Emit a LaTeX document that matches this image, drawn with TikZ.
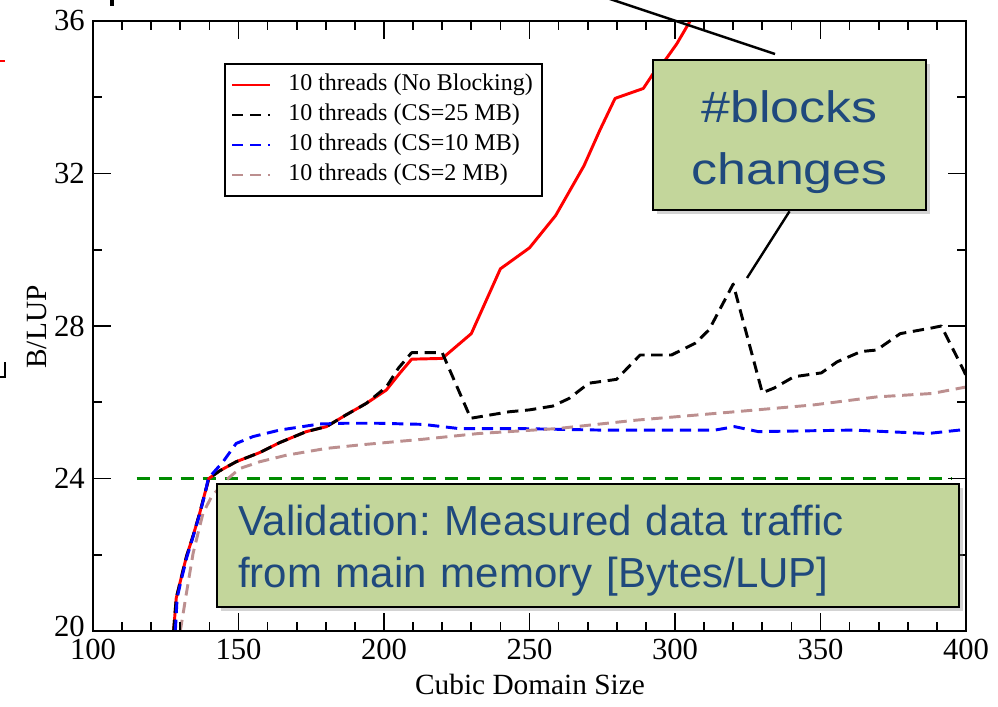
\documentclass[tikz,border=0pt]{standalone}
\usepackage{fontspec}
\setmainfont{Liberation Serif}
\newfontfamily\calloutfont{Liberation Sans}
\newfontfamily\calloutwidefont[FakeStretch=1.18]{Liberation Sans}
\usetikzlibrary{shadows}
\frenchspacing

\definecolor{gracebrown}{RGB}{188,143,143}
\definecolor{gracegreen}{RGB}{0,140,0}
\definecolor{calloutfill}{RGB}{195,214,155}
\definecolor{callouttext}{RGB}{31,73,125}

\begin{document}
\begin{tikzpicture}[x=0.75pt,y=-0.75pt,
  frame/.style={line width=2.2pt},
  tick/.style={line width=1.3pt},
  ticklabel/.style={font=\fontsize{23}{26}\selectfont,inner sep=0pt},
  axislabel/.style={font=\fontsize{22}{26}\selectfont,inner sep=0pt},
  legendtext/.style={font=\fontsize{18}{20}\selectfont,inner sep=0pt,anchor=west},
  curve/.style={line width=2.2pt,line join=round},
  nob/.style={curve,red},
  cs25/.style={curve,black,dash pattern=on 8.5pt off 5pt},
  cs10/.style={curve,blue,dash pattern=on 8.5pt off 5pt},
  cs2/.style={curve,gracebrown,dash pattern=on 8.5pt off 5pt},
  limit/.style={curve,gracegreen,dash pattern=on 9.75pt off 6.75pt},
  callout/.style={draw=black,line width=2pt,fill=calloutfill,text=callouttext,inner sep=0pt,
    drop shadow={opacity=0.35,shadow xshift=3pt,shadow yshift=-3pt}},
  pointer/.style={line width=1.8pt}]

    \useasboundingbox (0,0) rectangle (998,706);

    % Cut-off bits of the slide
    \draw[red,line width=2.2pt] (0,61) -- (5,61);
    \draw[line width=2.5pt] (112,0) -- (112,6);
    \draw[line width=2pt] (0,377) -- (5,377) -- (5,362);

    % The plot (data coordinates)
    \begin{scope}[shift={(-198,1393.5)},x=2.1825pt,y=28.59375pt]
	\draw[limit] (115,24) -- (395,24);
	\draw[nob] plot coordinates {(127.7,20) (128.6,20.86) (130,21.3) (132.1,21.95) (134.4,22.5)
	  (136.7,23.1) (138.4,23.6) (139.8,24.0) (143.5,24.2) (149.2,24.44) (157.3,24.68) (164.1,24.94)
	  (173.3,25.23) (180.2,25.36) (187,25.67) (193.9,25.97) (200.8,26.32) (205.4,26.76) (209.5,27.13)
	  (220,27.15) (230,27.8) (240,29.5) (250,30.05) (259,30.9) (268.7,32.2) (274.2,33.14) (279.4,33.97)
	  (289.1,34.23) (292.5,34.62) (296.6,34.97) (300.6,35.4) (305.2,36)};
	\draw[cs25] plot coordinates {(127.7,20) (128.6,20.86) (130,21.3) (132.1,21.95) (134.4,22.5)
	  (136.7,23.1) (138.4,23.6) (139.8,24.0) (143.5,24.2) (149.2,24.44) (157.3,24.68) (164.1,24.94)
	  (173.3,25.23) (180.2,25.36) (187,25.67) (193.9,25.97) (200.8,26.4) (205,26.9) (209.5,27.3)
	  (220,27.3) (229.8,25.58) (243,25.75) (250,25.8) (258,25.9) (263.6,26.1) (270.4,26.5) (279.9,26.6)
	  (288,27.24) (298.8,27.24) (307,27.55) (311.7,27.9) (320,29.1) (330,26.25) (334,26.37) (340.9,26.67)
	  (350.3,26.77) (355.7,27.06) (363.9,27.33) (369.3,27.37) (377.4,27.8) (388.3,27.95) (391.5,28.0)
	  (399.1,26.85) (400,26.7)};
	\draw[cs10] plot coordinates {(128.3,20) (128.9,20.86) (130.2,21.3) (132.3,21.95) (134.5,22.5)
	  (136.8,23.1) (138.5,23.6) (139.6,24.0) (144.7,24.44) (149.2,24.92) (155,25.1) (164.1,25.27)
	  (177.9,25.43) (187,25.45) (197.4,25.45) (213.4,25.42) (225.7,25.31) (246,25.31) (274.4,25.27)
	  (313.7,25.27) (320.5,25.36) (328.6,25.23) (361.2,25.27) (386.9,25.18) (397.7,25.27) (400,25.3)};
	\draw[cs2] plot coordinates {(130,20) (132.1,20.99) (134.4,22.04) (137.8,23.09) (140.7,23.52)
	  (145.8,23.96) (150.4,24.26) (157.3,24.44) (166.4,24.61) (180.2,24.79) (191.6,24.88) (203.1,24.96)
	  (213.4,25.03) (232.5,25.18) (259.6,25.31) (286.6,25.53) (320.5,25.75) (347.6,25.93) (369.3,26.14)
	  (388.3,26.23) (400,26.4)};

	% Frame and ticks
	\draw[frame] (100,20) rectangle (400,36);
	\foreach \X in {110,120,...,390}
	  \draw[tick] (\X,20) -- ++(0pt,7pt) (\X,36) -- ++(0pt,-7pt);
	\foreach \X in {150,200,...,350}
	  \draw[tick] (\X,20) -- ++(0pt,13.5pt) (\X,36) -- ++(0pt,-13.5pt);
	\foreach \Y in {22,26,...,34}
	  \draw[tick] (100,\Y) -- ++(7pt,0pt) (400,\Y) -- ++(-7pt,0pt);
	\foreach \Y in {24,28,32}
	  \draw[tick] (100,\Y) -- ++(13.5pt,0pt) (400,\Y) -- ++(-13.5pt,0pt);

	% Tick labels
	\foreach \X in {100,150,...,400}
	  \node[ticklabel,anchor=north] (xl\X) at (\X,20) [yshift=-6pt] {\X};
	\foreach \Y in {24,28,...,36}
	  \node[ticklabel,anchor=east] (yl\Y) at (100,\Y) [xshift=-6pt] {\Y};
	\node[ticklabel,anchor=east] (yl20) at (100,20) [xshift=-6pt,yshift=3.5pt] {20};
    \end{scope}

    % Axis titles
    \node[axislabel,rotate=90] (ytitle) at (37,327) {B/LUP};
    \node[axislabel] (xtitle) at (530,684) {Cubic Domain Size};

    % Legend
    \draw[line width=1pt] (225,64) rectangle (542,196);
    \foreach \sty/\txt [count=\i] in {nob/{10 threads (No Blocking)},cs25/{10 threads (CS=25 MB)},
        cs10/{10 threads (CS=10 MB)},cs2/{10 threads (CS=2 MB)}} {
	\draw[\sty] (232,{55+30*\i}) -- (270,{55+30*\i});
	\node[legendtext] (entry\i) at (288,{55+30*\i}) {\txt};
    }

    % Callouts
    \node[callout,minimum width=204.75pt,minimum height=112.5pt,align=center,
      font=\calloutwidefont\fontsize{33}{47}\selectfont] (blocks) at (789.5,135)
      {\rule{0pt}{34.5pt}\#blocks\\changes};
    \node[callout,minimum width=556.5pt,minimum height=92.25pt,text width=525pt,inner xsep=15.75pt,
      align=left,font=\calloutfont\fontsize{31.5}{39}\selectfont] (valid) at (588,545.5)
      {\rule{0pt}{29.8pt}Validation: Measured data traffic\\from main memory [Bytes/LUP]};

    % Pointers
    \coordinate (peak) at (747,278);
    \coordinate (upperend) at (553,-20);
    \coordinate (uppertip) at (775,54);
    \draw[pointer] (blocks.south) -- (peak);
    \draw[pointer] (upperend) -- (uppertip);

\end{tikzpicture}
\end{document}
